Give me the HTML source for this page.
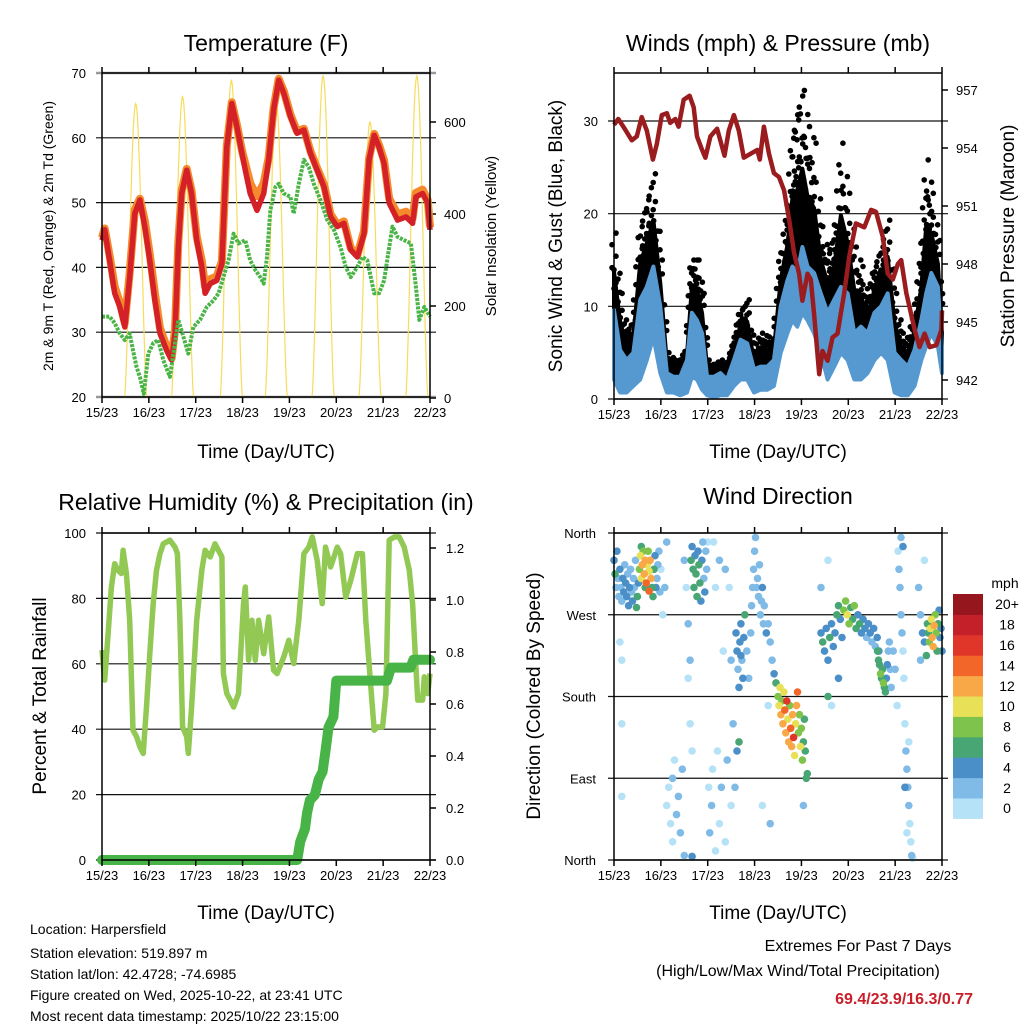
<!DOCTYPE html>
<html><head><meta charset="utf-8">
<style>
html,body{margin:0;padding:0;background:#fff;}
svg{display:block;font-family:"Liberation Sans",Arial,sans-serif;}
</style></head>
<body>
<svg id="fig" width="1024" height="1024" viewBox="0 0 1024 1024" xmlns="http://www.w3.org/2000/svg">
<rect x="0" y="0" width="1024" height="1024" fill="#fff"/>
<text x="266" y="51" font-size="23" text-anchor="middle">Temperature (F)</text>
<text x="778" y="51" font-size="23" text-anchor="middle">Winds (mph) &amp; Pressure (mb)</text>
<text x="266" y="510" font-size="23" text-anchor="middle">Relative Humidity (%) &amp; Precipitation (in)</text>
<text x="778" y="504" font-size="23" text-anchor="middle">Wind Direction</text>
<text x="266" y="458" font-size="19" text-anchor="middle">Time (Day/UTC)</text>
<text x="778" y="458" font-size="19" text-anchor="middle">Time (Day/UTC)</text>
<text x="266" y="919" font-size="19" text-anchor="middle">Time (Day/UTC)</text>
<text x="778" y="919" font-size="19" text-anchor="middle">Time (Day/UTC)</text>
<text transform="translate(53,236) rotate(-90)" font-size="14" text-anchor="middle">2m &amp; 9m T (Red, Orange) &amp; 2m Td (Green)</text>
<text transform="translate(496,236) rotate(-90)" font-size="15" text-anchor="middle">Solar Insolation (Yellow)</text>
<text transform="translate(562,236) rotate(-90)" font-size="19" text-anchor="middle">Sonic Wind &amp; Gust (Blue, Black)</text>
<text transform="translate(1014,236) rotate(-90)" font-size="19" text-anchor="middle">Station Pressure (Maroon)</text>
<text transform="translate(46,696) rotate(-90)" font-size="19" text-anchor="middle">Percent &amp; Total Rainfall</text>
<text transform="translate(540,696) rotate(-90)" font-size="19" text-anchor="middle">Direction (Colored By Speed)</text>
<g font-size="14">
<text x="30" y="934">Location: Harpersfield</text>
<text x="30" y="958">Station elevation: 519.897 m</text>
<text x="30" y="979">Station lat/lon: 42.4728; -74.6985</text>
<text x="30" y="1000">Figure created on Wed, 2025-10-22, at 23:41 UTC</text>
<text x="30" y="1021">Most recent data timestamp: 2025/10/22 23:15:00</text>
</g>
<text x="858" y="951" font-size="16" text-anchor="middle">Extremes For Past 7 Days</text>
<text x="798" y="976" font-size="16" text-anchor="middle">(High/Low/Max Wind/Total Precipitation)</text>
<text x="973" y="1004" font-size="16" font-weight="bold" fill="#c8202a" text-anchor="end">69.4/23.9/16.3/0.77</text>
</svg>
<script>
// ---------- data ----------
const dayLabels = ["15/23","16/23","17/23","18/23","19/23","20/23","21/23","22/23"];
const tempTicks = [20,30,40,50,60,70];
const solarTicks = [0,200,400,600];
const windTicks = [0,10,20,30];
const pressTicks = [942,945,948,951,954,957];
const rhTicks = [0,20,40,60,80,100];
const precipTicks = [0.0,0.2,0.4,0.6,0.8,1.0,1.2];
const dirTickLabels = ["North","East","South","West","North"];
const dirTickValues = [0,90,180,270,360];
const speedBins = ["0","2","4","6","8","10","12","14","16","18","20+"];
const speedColors = ["#b5e2f7","#7fbbe6","#4a8fc7","#47a673","#7ec34b","#e8e057","#f9a848","#f26629","#e0362a","#c3202a","#95161c"];

const tempHours = [0,1.4,3.9,6.5,9.1,11.7,14.2,16.8,19.4,21.9,24.5,27.1,29.7,33.1,35.7,37.4,39.1,40.8,43.4,45.9,48.5,51.1,52.8,55.4,58.8,61.4,63.9,66.5,69.1,71.7,73.4,75.9,79.4,82.8,85.4,87.9,90.5,93.1,96.5,99.9,103.4,106.8,110.2,113.7,117.1,120.5,123.9,127.4,130.8,134.2,136.8,139.4,141.9,144.5,147.1,151.4,155.7,159.1,160.8,164.2,166.8,168];
const temp2m = [44.2,45.8,41.1,36.0,33.9,30.8,38.5,48.3,50.4,46.3,41.1,34.9,29.8,27.2,25.7,29.8,43.1,51.4,55.0,51.4,44.2,40.1,36.0,37.5,38.0,40.6,58.6,65.3,61.7,57.6,55.0,51.4,48.8,51.4,56.6,64.3,68.9,66.9,63.3,60.7,61.2,57.6,55.0,52.4,47.8,46.3,46.8,42.7,41.6,45.2,56.6,60.4,58.6,56.0,49.9,47.3,47.8,46.8,50.9,51.4,49.9,45.8];
const temp9m = [44.6,46.0,41.8,37.0,34.6,31.4,39.2,48.9,50.6,47.2,42.0,36.0,30.6,27.8,26.0,30.4,43.8,51.8,55.2,51.8,44.8,41.0,37.0,38.2,38.6,41.0,58.8,65.5,62.0,58.0,56.0,53.0,51.0,53.0,57.0,64.6,69.1,67.2,63.6,61.0,61.4,57.9,55.3,52.8,48.2,46.6,47.1,43.0,41.9,45.6,56.9,60.6,58.9,56.5,50.6,48.2,48.6,47.6,51.5,52.0,50.4,46.2];
const dewHours = [0,3.9,6.5,9.1,11.7,14.2,15.9,17.7,19.4,21.4,23.7,26.2,28.8,31.4,34.8,37.4,39.1,41.7,44.2,46.8,50.2,53.7,57.1,59.7,62.2,64.8,67.4,69.9,73.4,75.9,78.5,81.1,82.8,84.5,86.2,88.8,90.5,93.1,96.5,98.2,100.8,103.4,105.9,108.5,111.9,115.4,118.8,122.2,124.8,127.4,130.8,133.4,135.9,137.7,139.4,141.9,144.5,147.1,148.8,151.4,154.8,158.2,160.8,162.5,165.1,168];
const dewPoint = [32.4,32.4,31.4,29.8,28.8,29.8,27.2,24.6,23.1,20.5,26.7,28.3,28.8,25.7,23.1,28.3,31.9,29.3,26.7,30.8,31.9,33.9,34.9,36.0,38.5,41.1,45.2,43.7,44.2,41.1,39.6,38.5,37.5,41.6,48.8,52.4,52.9,51.4,50.9,48.3,52.9,56.6,55.5,52.9,50.4,47.3,45.8,43.1,40.1,38.5,40.1,41.6,41.1,38.5,36.0,36.0,38.0,43.1,46.3,44.7,44.2,43.7,37.0,31.9,33.9,32.4];
const solarPeakHours = [17.5,41.5,66.5,89.5,113.5,137.5,161.5];
const solarPeaks = [640,655,690,640,700,600,700];

const windHours = [0,3.1,6.5,9.9,13.4,16.8,20.2,23.7,27.1,30.5,33.9,37.4,39.9,42.5,45.1,47.7,51.1,54.5,57.9,61.4,64.8,68.2,71.7,75.1,78.5,81.9,85.4,88.8,91.4,93.9,96.5,99.1,102.5,105.9,109.4,112.8,116.2,119.7,123.1,126.5,129.9,133.4,136.8,140.2,143.7,147.1,150.5,153.9,157.4,159.9,162.5,165.9,168];
const gustMax = [17.9,11.4,7.1,8.5,18.6,21.5,24.3,15.0,5.0,4.2,4.2,5.3,15.0,15.0,11.4,4.2,3.5,4.2,3.5,6.0,9.6,10.7,5.0,7.1,6.7,6.4,15.7,20.4,29.0,31.5,33.3,29.4,27.6,18.6,15.7,17.9,27.6,22.2,16.4,14.3,10.7,14.3,16.4,19.3,11.4,7.1,6.4,9.3,15.7,25.8,22.2,17.1,8.5];
const windHigh = [9.6,5.3,4.2,5.0,10.7,12.1,14.3,10.0,2.8,2.4,2.4,4.2,9.3,8.5,7.1,2.4,2.4,2.8,2.1,4.2,6.4,6.0,3.2,3.5,3.5,4.2,10.0,12.8,14.3,13.6,16.4,14.3,13.6,11.4,9.3,10.7,12.1,11.4,7.1,7.8,7.1,9.3,10.0,11.4,5.0,4.2,3.5,5.3,8.5,11.4,13.6,12.1,5.7];
const windLow = [2.1,0.7,0.7,1.4,2.1,4.2,6.7,2.8,0.7,0.7,0.4,0.7,2.4,2.1,1.0,0.4,0.2,0.4,0.4,1.4,2.1,2.1,0.7,1.0,1.0,1.4,5.0,7.1,8.5,7.8,9.3,8.5,7.1,5.0,2.1,3.5,5.0,4.2,2.1,2.1,2.8,4.2,5.0,4.2,0.7,0.4,0.4,1.4,4.2,5.7,7.1,5.7,2.8];
const pressHours = [0,2.2,4.8,9.1,11.7,14.2,16.8,19.9,21.9,24.5,27.1,28.8,31.4,33.1,35.7,38.7,40.8,42.5,45.1,46.8,49.4,52.8,56.6,58.8,61.4,63.9,66.5,69.9,73.4,74.7,76.8,79.4,81.9,84.5,87.1,89.7,92.2,94.8,96.5,99.1,100.8,102.5,105.1,106.8,109.4,111.9,114.5,117.9,120.5,123.9,128.2,131.7,134.2,137.7,140.2,142.8,145.4,147.1,149.7,154.0,156.5,159.1,161.7,165.1,167.7,168];
const pressure = [955.2,955.5,955.1,954.4,954.6,955.6,954.9,953.4,954.2,955.7,955.8,955.3,955.5,955.1,956.5,956.7,956.1,954.6,953.9,953.5,954.6,955.0,953.6,954.9,955.7,954.9,953.5,953.7,953.9,953.4,955.1,953.7,952.7,952.5,951.8,950.3,948.6,947.5,946.1,947.5,947.2,945.4,942.3,943.5,943.0,944.2,944.4,946.5,948.4,950.1,949.9,950.8,950.7,949.4,947.5,947.2,948.0,948.2,946.5,944.6,943.7,944.4,943.7,943.8,944.6,945.6];

const rhHours = [0,1.4,3.1,4.8,6.5,8.2,9.9,10.8,12.5,14.2,15.9,17.7,19.4,21.1,22.8,24.5,26.2,27.9,29.7,31.4,34.8,37.4,38.6,39.9,41.3,43.4,44.2,45.9,48.5,51.1,52.8,55.4,57.9,61.4,62.2,63.9,65.7,67.4,69.9,72.5,73.4,75.1,76.8,78.5,80.2,82.8,85.4,87.9,89.7,93.1,95.7,98.2,100.8,103.4,105.9,107.7,110.2,112.8,114.5,117.1,120.5,122.2,124.8,127.4,130.8,133.4,135.1,137.7,139.4,141.1,143.7,145.4,147.1,149.7,152.2,154.8,157.4,159.1,161.7,164.2,165.1,166.8,168];
const rhValues = [64.2,55.0,69.2,83.5,90.6,88.6,87.6,94.7,87.6,73.3,39.7,37.7,34.6,32.6,46.8,63.1,78.4,88.6,93.7,96.7,97.8,95.7,93.7,73.3,40.7,37.7,32.6,46.8,73.3,88.6,94.7,92.7,96.7,92.7,57.0,50.9,48.9,46.8,50.9,78.4,83.5,61.1,73.3,61.1,73.3,63.1,74.3,58.0,57.0,62.1,67.2,60.1,73.3,93.7,95.7,98.8,91.6,78.4,95.7,89.6,95.7,93.7,80.4,85.5,93.7,93.7,73.3,53.0,39.7,40.7,40.7,50.9,97.8,98.8,98.8,95.7,88.6,78.4,48.9,48.9,56.0,50.9,57.0];
const precipHours = [0,100,101.5,104,105,106.5,109,111,113,114.5,116,118.5,120,146,148,158,159.5,168];
const precipTotal = [0,0,0.07,0.12,0.18,0.23,0.25,0.31,0.34,0.42,0.51,0.55,0.69,0.69,0.74,0.74,0.77,0.77];

const dirHours = [0,0.5,1,1.5,2,2.5,3,3.5,4,4.5,5,5.5,6,6.5,7,7.5,8,8.5,9,9.5,10,10.5,11,11.5,12,12.5,3,4,4,4,
13,13.5,14,14.5,15,15.5,16,16.5,17,17.5,18,18.5,19,19.5,20,20.5,21,21.5,22,22.5,23,23.5,14,16,18,
24,25,26,27,27,28,29,30,30,31,32,33,34,35,36,36,37,38,38,39,39,40,40,
39.5,40,40.5,41,41.5,42,42.5,43,43.5,44,44.5,45,45.5,46,46.5,47,47.5,
48,48.5,49,50,50.5,51,52,52,53,54,54,55,56,57,57,58,59,60,60,61,62,
62.5,63,63.5,64,64.5,65,65.5,66,66.5,67,63,64,65,
68,69,70,70.5,71,71.5,72,72.5,73,73.5,74,74.5,75,75.5,76,76.5,77,78,79,80,81,82,80,76,79,
83,84,84.5,85,85.5,86,86.5,87,87.5,88,88.5,89,89.5,90,90.5,91,91.5,92,92.5,93,93.5,94,94.5,95,95.5,96,96.5,97,97.5,98,98.5,99,97,
106,106.9,107.8,108.7,109.6,110.5,111.4,112.3,113.2,114.1,115,115.9,116.8,117.7,118.6,119.5,120.4,121.3,122.2,123.1,124,124.9,125.8,126.7,127.6,128.5,129.4,130.3,131.2,132.1,133,133.9,134.8,135.7,109.6,115,106,109.6,111.4,
135,135.5,136,136.5,137,137.5,138,138.5,139,139.5,140,140.5,141,141.5,142,143,144,145,
145.5,146,146.5,147,147.5,148,148.5,149,149.5,150,150.5,151,151.5,152,152.5,153,147,148,149,150,151,
157,158,159,160,160.5,161,161.5,162,162.5,163,163.5,164,164.5,165,165.5,166,166.5,167,167.5,168,157,156,159];
const dirDegrees = [330,315,300,340,310,290,320,300,285,310,295,325,305,290,315,280,300,320,295,285,310,300,330,278,290,305,240,220,150,70,
320,335,310,325,340,315,330,305,325,340,318,330,310,300,290,320,335,300,310,325,340,295,345,300,296,
320,270,300,350,60,80,40,90,20,110,50,70,30,100,5,330,300,200,260,220,150,120,4,
330,345,320,300,335,315,290,340,325,305,285,330,350,310,295,340,320,
350,80,30,60,100,350,300,10,120,40,330,80,230,320,20,110,300,220,60,150,80,
250,230,210,190,240,260,220,200,245,270,120,130,225,
230,200,250,280,300,320,340,355,300,310,290,325,270,285,300,260,280,250,260,240,220,205,40,60,170,
195,180,170,190,160,175,150,185,165,140,175,155,130,170,145,125,160,135,115,150,170,185,140,160,125,145,110,130,155,120,90,95,60,
250,240,230,255,220,245,260,235,250,270,280,265,245,275,285,270,260,278,265,280,255,270,260,250,265,255,245,260,250,240,255,235,245,230,180,200,300,330,170,
230,220,215,205,200,210,195,190,185,200,215,230,240,210,190,230,210,170,
340,320,300,270,250,230,200,150,120,100,80,60,40,20,5,2,355,345,80,30,130,
270,250,240,225,260,250,240,255,265,245,235,258,270,250,230,260,275,245,255,230,220,300,330];
const dirSpeeds = [5,6,3,4,2,3,4,3,2,5,4,3,4,5,3,4,5,2,3,4,2,3,2,6,7,5,1,1,1,1,
8,10,11,12,9,13,12,14,11,8,10,12,13,7,6,6,4,4,3,3,2,3,7,6,15,
1,1,2,2,1,1,1,2,1,1,2,3,2,2,3,2,1,1,2,3,1,1,5,
6,5,7,6,5,7,6,5,7,6,5,4,3,3,4,2,3,
1,1,2,2,1,1,1,1,1,1,2,2,1,2,1,2,1,2,1,3,3,
4,4,3,4,5,4,3,4,5,6,4,6,4,
2,2,3,2,2,3,2,2,3,3,3,3,3,3,4,3,3,4,3,3,3,4,2,1,1,
7,9,10,11,12,9,13,10,14,12,16,11,12,9,15,13,12,16,10,11,12,14,9,8,10,8,8,7,7,6,7,6,2,
5,6,4,5,4,6,4,5,5,6,7,5,4,8,9,10,8,7,6,8,7,5,6,5,4,4,3,4,4,3,4,3,4,5,6,5,3,1,1,
6,7,6,8,7,6,8,7,6,5,4,3,3,3,3,2,2,1,
1,2,3,2,2,1,1,1,2,3,2,2,1,1,2,1,2,4,4,1,1,
3,4,5,6,6,7,9,10,11,12,13,12,9,8,7,6,5,4,4,5,2,2,1];

// ---------- helpers ----------
const svg = document.getElementById('fig');
const NS = 'http://www.w3.org/2000/svg';
function mk(tag, attrs, parent){
  const e = document.createElementNS(NS, tag);
  for (const k in attrs) e.setAttribute(k, attrs[k]);
  (parent || svg).appendChild(e);
  return e;
}
function txt(s, x, y, size, anchor, parent){
  const t = mk('text', {x:x, y:y, 'font-size':size, 'text-anchor':anchor}, parent);
  t.textContent = s;
  return t;
}
function xScale(x0, x1){ return h => x0 + h/168*(x1-x0); }
function linY(v0, p0, v1, p1){ return v => p0 + (v-v0)/(v1-v0)*(p1-p0); }
function pathFrom(hs, vs, xf, yf){
  let d = '';
  const n = Math.min(hs.length, vs.length);
  for (let i=0;i<n;i++) d += (i?'L':'M') + xf(hs[i]).toFixed(1) + ' ' + yf(vs[i]).toFixed(1);
  return d;
}
function frame(x0, x1, yT, yB, name){
  const g = mk('g', {});
  
  
  mk('line', {x1:x0, y1:yT, x2:x0, y2:yB, stroke:'#000', 'stroke-width':1.5}, g);
  mk('line', {x1:x1, y1:yT, x2:x1, y2:yB, stroke:'#000', 'stroke-width':1.5}, g);
  mk('line', {x1:x0, y1:yT, x2:x1, y2:yT, stroke:'#000', 'stroke-width':1.5}, g);
  mk('line', {x1:x0, y1:yB, x2:x1, y2:yB, stroke:'#000', 'stroke-width':1.5}, g);
  const xf = xScale(x0, x1);
  dayLabels.forEach((lab, i) => {
    const x = xf(i*24);
    mk('line', {x1:x, y1:yT, x2:x, y2:yT-6, stroke:'#000', 'stroke-width':1.5}, g);
    mk('line', {x1:x, y1:yB, x2:x, y2:yB+6, stroke:'#000', 'stroke-width':1.5}, g);
    const t = txt(lab, x, yB+20, 13, 'middle', g);
    
    
  });
  return g;
}
function hgrid(x0, x1, y, color, w, parent){
  mk('line', {x1:x0-6, y1:y, x2:x1+6, y2:y, stroke:color, 'stroke-width':w}, parent);
}

// ---------- Panel 1: Temperature ----------
(function(){
  const x0=102, x1=430, yT=73, yB=397;
  const xf = xScale(x0, x1);
  const yT_ = linY(70, 73, 20, 397);
  const yS = linY(0, 398, 600, 122);
  const g = mk('g', {});
  
  
  tempTicks.forEach(v => {
    const y = yT_(v);
    hgrid(x0, x1, y, (v===70||v===20)?'#999':'#111', (v===70||v===20)?2.5:1.2, g);
    const t = txt(String(v), x0-16, y+5, 13, 'end', g);
    
    
  });
  solarTicks.forEach(v => {
    const y = yS(v);
    mk('line', {x1:x1, y1:y, x2:x1+6, y2:y, stroke:'#000', 'stroke-width':1.5}, g);
    const t = txt(String(v), x1+14, y+5, 13, 'start', g);
    
    
  });
  let sd = '';
  solarPeakHours.forEach((ph, i) => {
    const rise = ph - 6, set = ph + 5.5;
    for (let k=0;k<=40;k++){
      const h = rise + (set-rise)*k/40;
      const f = Math.sin(Math.PI*k/40);
      sd += (k?'L':'M') + xf(Math.min(h,168)).toFixed(1) + ' ' + yS(solarPeaks[i]*Math.pow(f,1.6)).toFixed(1);
    }
  });
  const sol = mk('path', {d:sd, fill:'none', stroke:'#f7dc5a', 'stroke-width':1.2}, g);
  
  
  const o = mk('path', {d:pathFrom(tempHours, temp9m, xf, yT_), fill:'none', stroke:'#f58a2c', 'stroke-width':8, 'stroke-linejoin':'round'}, g);
  
  
  const r = mk('path', {d:pathFrom(tempHours, temp2m, xf, yT_), fill:'none', stroke:'#d42027', 'stroke-width':5.5, 'stroke-linejoin':'round'}, g);
  
  
  const d = mk('path', {d:pathFrom(dewHours, dewPoint, xf, yT_), fill:'none', stroke:'#4bb446', 'stroke-width':4, 'stroke-dasharray':'3 1.2', 'stroke-linejoin':'round'}, g);
  
  
  frame(x0, x1, yT, yB, 'temperature-axes');
})();

// ---------- Panel 2: Winds & Pressure ----------
(function(){
  const x0=614, x1=942, yT=73, yB=399;
  const xf = xScale(x0, x1);
  const yW = linY(0, 399, 30, 121);
  const yP = linY(957, 90, 942, 380);
  const g = mk('g', {});
  
  
  windTicks.forEach(v => {
    const y = yW(v);
    hgrid(x0, x1, y, '#111', 1.2, g);
    const t = txt(String(v), x0-16, y+5, 13, 'end', g);
    
    
  });
  pressTicks.forEach(v => {
    const y = yP(v);
    mk('line', {x1:x1, y1:y, x2:x1+6, y2:y, stroke:'#000', 'stroke-width':1.5}, g);
    const t = txt(String(v), x1+14, y+5, 13, 'start', g);
    
    
  });
  const n = windHours.length;
  // dense gust band: from sonic top to 55% of the way to max gust
  const dense = i => windHigh[i] + (gustMax[i]-windHigh[i])*0.5;
  let top = '', bot = '';
  for (let i=0;i<n;i++) top += (i?'L':'M') + xf(windHours[i]).toFixed(1) + ' ' + yW(dense(i)).toFixed(1);
  for (let i=n-1;i>=0;i--) bot += 'L' + xf(windHours[i]).toFixed(1) + ' ' + yW(windHigh[i]).toFixed(1);
  const ga = mk('path', {d:top+bot+'Z', fill:'#000', stroke:'#000', 'stroke-width':4, 'stroke-linejoin':'round'}, g);
  
  
  // scattered gust dots between dense level and max
  const fr = [0.55,0.7,0.85,1.0];
  for (let i=0;i<n-1;i++){
    for (let s=0;s<3;s++){
      const t = s/3;
      const h = windHours[i] + (windHours[i+1]-windHours[i])*t;
      const hi = windHigh[i] + (windHigh[i+1]-windHigh[i])*t;
      const gm = gustMax[i] + (gustMax[i+1]-gustMax[i])*t;
      fr.forEach((f, k) => {
        if (s===1 && k===3) return;
        const v = hi + (gm-hi)*(s===1 ? f*0.9 : f);
        const c = mk('circle', {cx:(xf(h)+(k%2?2:-2)).toFixed(1), cy:yW(v).toFixed(1), r:2.8, fill:'#000'}, g);
        
        
      });
    }
  }
  let bt = '', bb = '';
  for (let i=0;i<n;i++) bt += (i?'L':'M') + xf(windHours[i]).toFixed(1) + ' ' + yW(windHigh[i]).toFixed(1);
  for (let i=n-1;i>=0;i--) bb += 'L' + xf(windHours[i]).toFixed(1) + ' ' + yW(windLow[i]).toFixed(1);
  const wa = mk('path', {d:bt+bb+'Z', fill:'#5599d0', stroke:'#5599d0', 'stroke-width':4, 'stroke-linejoin':'round'}, g);
  
  
  const p = mk('path', {d:pathFrom(pressHours, pressure, xf, yP), fill:'none', stroke:'#9b1c1f', 'stroke-width':4.5, 'stroke-linejoin':'round'}, g);
  
  
  frame(x0, x1, yT, yB, 'winds-axes');
})();

// ---------- Panel 3: RH & Precip ----------
(function(){
  const x0=102, x1=430, yT=533, yB=860;
  const xf = xScale(x0, x1);
  const yR = linY(0, 860, 100, 533);
  const yPr = linY(0, 860, 1.2, 548);
  const g = mk('g', {});
  
  
  rhTicks.forEach(v => {
    const y = yR(v);
    hgrid(x0, x1, y, '#111', 1.2, g);
    const t = txt(String(v), x0-16, y+5, 13, 'end', g);
    
    
  });
  precipTicks.forEach(v => {
    const y = yPr(v);
    mk('line', {x1:x1, y1:y, x2:x1+6, y2:y, stroke:'#000', 'stroke-width':1.5}, g);
    const t = txt(v.toFixed(1), x1+16, y+5, 13, 'start', g);
    
    
  });
  const r = mk('path', {d:pathFrom(rhHours, rhValues, xf, yR), fill:'none', stroke:'#92c954', 'stroke-width':5.5, 'stroke-linejoin':'round'}, g);
  
  
  const p = mk('path', {d:pathFrom(precipHours, precipTotal, xf, yPr), fill:'none', stroke:'#48b447', 'stroke-width':10, 'stroke-linejoin':'round', 'stroke-linecap':'round'}, g);
  
  
  frame(x0, x1, yT, yB, 'humidity-axes');
})();

// ---------- Panel 4: Wind Direction ----------
(function(){
  const x0=614, x1=942, yT=533, yB=860;
  const xf = xScale(x0, x1);
  const yD = linY(0, 860, 360, 533);
  const g = mk('g', {});
  
  
  dirTickValues.forEach((v, i) => {
    const y = yD(v);
    hgrid(x0, x1, y, '#111', 1.2, g);
    const t = txt(dirTickLabels[i], x0-18, y+5, 13, 'end', g);
    
    
  });
  const n = Math.min(dirHours.length, dirDegrees.length, dirSpeeds.length);
  const idx = [];
  for (let i=0;i<n;i++) idx.push(i);
  idx.sort((a,b) => dirSpeeds[a]-dirSpeeds[b]);
  idx.forEach(i => {
    const bin = Math.min(10, Math.floor(dirSpeeds[i]/2));
    const c = mk('circle', {cx:xf(dirHours[i]).toFixed(1), cy:yD(dirDegrees[i]).toFixed(1), r:3.8, fill:speedColors[bin]}, g);
    
    
  });
  frame(x0, x1, yT, yB, 'wind-direction-axes');
  const cb = mk('g', {});
  
  
  const bx = 953, bw = 30, by0 = 594, bh = 20.4;
  txt('mph', 1005, 588, 14, 'middle', cb);
  speedBins.forEach((lab, i) => {
    const y = by0 + (10-i)*bh;
    const rct = mk('rect', {x:bx, y:y, width:bw, height:bh+0.5, fill:speedColors[i]}, cb);
    
    
    const t = txt(lab, 1007, y+bh/2+5, 14, 'middle', cb);
    
    
  });
})();
</script>
</body></html>
